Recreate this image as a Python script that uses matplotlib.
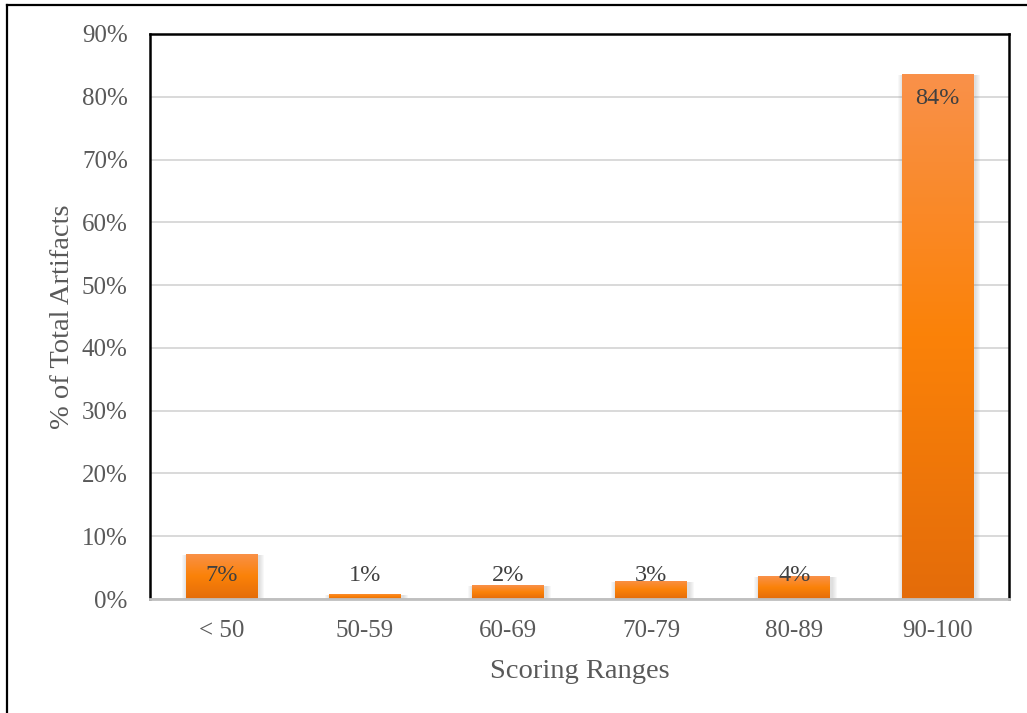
import numpy as np
import matplotlib
matplotlib.use("Agg")
import matplotlib.pyplot as plt
from matplotlib.patches import Rectangle
from matplotlib.colors import LinearSegmentedColormap
from matplotlib.lines import Line2D
from matplotlib.ticker import FuncFormatter, MultipleLocator

# Share of artifacts per scoring range (%)
categories = ["< 50", "50-59", "60-69", "70-79", "80-89", "90-100"]
shares = [7.2, 0.8, 2.2, 2.9, 3.6, 83.6]

plt.rcParams["font.family"] = ["Liberation Serif", "DejaVu Serif"]
TEXT = "#595959"

W, H = 1027, 713
fig = plt.figure(figsize=(W / 100, H / 100), dpi=100)
ax = fig.add_axes([150 / W, 1 - 599 / H, (1009 - 150) / W, (599 - 34) / H])

ax.set_xlim(-0.5, len(categories) - 0.5)
ax.set_ylim(0, 90)
ax.yaxis.set_major_locator(MultipleLocator(10))
ax.yaxis.set_major_formatter(FuncFormatter(lambda v, p: f"{v:.0f}%"))
ax.grid(axis="y", color="#D9D9D9", linewidth=1.4, zorder=0)
ax.set_axisbelow(True)

# orange gradient, light at the top of each bar, darker at the base
grad = LinearSegmentedColormap.from_list(
    "bar", [(0.0, "#E46C0A"), (0.5, "#FB8208"), (1.0, "#F9914A")])
bar_w = 0.5
gimg = np.linspace(0, 1, 256).reshape(-1, 1)

# data units per pixel, for the soft shadow around each bar
px_x = (len(categories)) / (1009 - 150)
px_y = 90 / (599 - 34)

bars = ax.bar(range(len(categories)), shares, width=bar_w, color="none",
              edgecolor="none", zorder=3)
for rect in bars:
    x0, w, h = rect.get_x(), rect.get_width(), rect.get_height()
    for k in range(1, 6):
        ax.add_patch(Rectangle((x0 - k * px_x + px_x, -k * px_y),
                               w + 2 * k * px_x + px_x, h + k * px_y - px_y,
                               facecolor="#808080", alpha=0.05,
                               edgecolor="none", zorder=2))
    im = ax.imshow(gimg, extent=(x0, x0 + w, 0, h), origin="lower",
                   cmap=grad, aspect="auto", zorder=3)
    im.set_clip_path(rect)

# value labels near the top of each bar, kept above the axis for short bars
off = 3.82
for i, v in enumerate(shares):
    y = max(v - off, off)
    ax.text(i, y, f"{v:.0f}%", ha="center", va="center", fontsize=17.5,
            color="#404040", zorder=5)

ax.set_xticks(range(len(categories)))
ax.set_xticklabels(categories)
ax.tick_params(axis="both", length=0, labelsize=18, labelcolor=TEXT)
ax.tick_params(axis="y", pad=16)
ax.tick_params(axis="x", pad=15)

for s in ("left", "top", "right"):
    ax.spines[s].set_color("black")
    ax.spines[s].set_linewidth(1.8)
ax.spines["bottom"].set_color("#BFBFBF")
ax.spines["bottom"].set_linewidth(2)
ax.spines["bottom"].set_zorder(4)

ax.set_ylabel("% of Total Artifacts", fontsize=20.5, color=TEXT, labelpad=5)
ax.set_xlabel("Scoring Ranges", fontsize=20.5, color=TEXT, labelpad=12)

# outer frame on the left and top edges of the figure
fig.add_artist(Line2D([7 / W, 7 / W], [0, 1 - 5 / H], color="black",
                      linewidth=1.6, transform=fig.transFigure))
fig.add_artist(Line2D([7 / W, 1], [1 - 5 / H, 1 - 5 / H], color="black",
                      linewidth=1.6, transform=fig.transFigure))

fig.savefig("out.png", dpi=100)
